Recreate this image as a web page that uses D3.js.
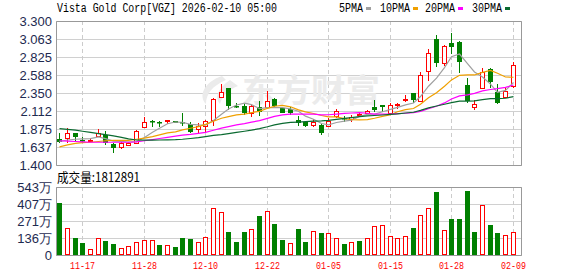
<html>
<head>
<meta charset="utf-8">
<script src="https://cdn.jsdelivr.net/npm/d3@7"></script>
<style>
  body { margin: 0; background: #fff; }
</style>
</head>
<body>
<script>
// trading days shown (MM-DD)
var dates = ["11-12","11-13","11-14","11-17","11-18","11-19","11-20","11-21","11-24","11-25",
  "11-26","11-28","12-01","12-02","12-03","12-04","12-05","12-08","12-09","12-10",
  "12-11","12-12","12-15","12-16","12-17","12-18","12-19","12-22","12-23","12-24",
  "12-26","12-29","12-30","12-31","01-02","01-05","01-06","01-07","01-08","01-09",
  "01-12","01-13","01-14","01-15","01-16","01-20","01-21","01-22","01-23","01-26",
  "01-27","01-28","01-29","01-30","02-02","02-03","02-04","02-05","02-06","02-09"];

var open = [1.743,1.752,1.818,1.725,1.722,1.783,1.796,1.677,1.641,1.670,
  1.694,1.905,1.985,1.965,1.980,1.975,1.970,1.940,1.871,1.908,
  1.994,2.301,2.412,2.185,2.180,2.086,2.160,2.169,2.271,2.148,
  2.135,2.000,1.972,1.932,1.928,1.915,2.047,2.020,2.003,2.060,
  2.090,2.160,2.190,2.082,2.200,2.265,2.345,2.244,2.644,3.062,
  2.742,3.006,3.027,2.456,2.170,2.412,2.663,2.367,2.293,2.442];
var high = [1.822,1.884,1.822,1.768,1.752,1.875,1.849,1.694,1.697,1.700,
  1.862,2.037,1.990,1.985,1.995,1.980,2.080,1.963,1.950,1.990,
  2.284,2.475,2.416,2.214,2.214,2.205,2.240,2.380,2.284,2.160,
  2.160,2.045,1.980,2.010,1.935,2.020,2.143,2.045,2.060,2.100,
  2.130,2.260,2.195,2.214,2.215,2.320,2.350,2.627,2.930,3.109,
  2.983,3.146,3.030,2.544,2.258,2.676,2.684,2.465,2.412,2.763];
var low = [1.684,1.694,1.703,1.690,1.700,1.765,1.664,1.560,1.611,1.650,
  1.686,1.900,1.905,1.895,1.940,1.950,1.910,1.818,1.818,1.842,
  1.915,2.297,2.126,2.148,2.060,2.029,2.040,2.161,2.169,2.080,
  2.060,1.915,1.905,1.900,1.796,1.897,2.020,1.970,1.970,2.030,
  2.070,2.100,2.100,2.060,2.135,2.235,2.215,2.231,2.512,2.693,
  2.700,2.860,2.618,2.214,2.126,2.410,2.420,2.210,2.280,2.412];
var close = [1.697,1.818,1.773,1.720,1.728,1.818,1.694,1.620,1.694,1.685,
  1.853,1.963,1.965,1.955,1.990,1.960,1.950,1.830,1.918,1.974,
  2.267,2.359,2.178,2.180,2.090,2.172,2.100,2.244,2.182,2.090,
  2.082,1.950,1.920,1.971,1.818,1.985,2.109,2.010,2.037,2.070,
  2.115,2.130,2.160,2.192,2.210,2.275,2.255,2.583,2.874,2.750,
  2.970,2.961,2.763,2.244,2.200,2.631,2.499,2.214,2.376,2.719];

var ma5 = [1.71,1.73,1.74,1.745,1.747,1.771,1.747,1.716,1.711,1.702,
  1.709,1.763,1.832,1.884,1.945,1.967,1.964,1.937,1.930,1.926,
  1.988,2.070,2.139,2.192,2.215,2.196,2.144,2.157,2.158,2.158,
  2.140,2.110,2.045,2.003,1.948,1.929,1.961,1.979,1.992,2.042,
  2.068,2.072,2.102,2.133,2.161,2.193,2.218,2.303,2.439,2.547,
  2.686,2.828,2.864,2.738,2.628,2.560,2.467,2.358,2.384,2.488];
var ma10 = [1.64,1.665,1.685,1.695,1.70,1.71,1.72,1.725,1.725,1.725,
  1.740,1.755,1.774,1.798,1.824,1.838,1.864,1.885,1.907,1.936,
  1.977,2.017,2.038,2.061,2.071,2.092,2.107,2.148,2.175,2.186,
  2.168,2.127,2.101,2.080,2.053,2.034,2.035,2.012,1.997,1.995,
  1.999,2.017,2.041,2.063,2.102,2.131,2.145,2.203,2.286,2.354,
  2.440,2.523,2.583,2.589,2.588,2.623,2.648,2.611,2.561,2.558];
var ma20 = [1.72,1.715,1.71,1.705,1.70,1.70,1.70,1.70,1.70,1.70,
  1.705,1.72,1.735,1.75,1.765,1.78,1.795,1.805,1.818,1.830,
  1.859,1.886,1.906,1.929,1.947,1.965,1.985,2.016,2.041,2.061,
  2.072,2.072,2.070,2.070,2.062,2.063,2.071,2.080,2.086,2.091,
  2.083,2.072,2.071,2.071,2.077,2.083,2.090,2.107,2.142,2.175,
  2.219,2.270,2.312,2.326,2.345,2.377,2.396,2.407,2.424,2.456];
var ma30 = [1.88,1.87,1.86,1.845,1.83,1.815,1.80,1.785,1.765,1.745,
  1.73,1.728,1.728,1.73,1.732,1.735,1.74,1.75,1.76,1.775,
  1.79,1.80,1.815,1.83,1.845,1.86,1.88,1.905,1.93,1.949,
  1.962,1.966,1.971,1.979,1.982,1.988,2.002,2.015,2.026,2.039,
  2.048,2.053,2.060,2.068,2.075,2.086,2.096,2.121,2.153,2.179,
  2.202,2.222,2.242,2.244,2.247,2.263,2.276,2.275,2.281,2.302];

// volume in 万 (10k shares); 1 = up day (red), 0 = down day (green)
var volume = [417.6,218,138,98,48,136,112,88,56,72,
  104,120,120,80,80,66,136,128,101,144,
  373,346,184,104,184,205,311,349,248,120,
  93,208,104,189,176,173,133,88,101,112,
  133,232,237,154,136,152,218,319,375,505,
  200,287,287,511,184,399,240,176,160,181.2891];
var volUp = [0,1,0,0,1,1,0,0,1,1, 1,1,1,0,1,0,0,0,1,1,
  1,1,0,0,0,1,0,1,0,0, 1,0,0,1,0,1,1,0,1,0,
  1,1,1,1,1,1,0,1,1,0, 1,0,0,0,0,1,0,0,1,1];

var priceTicks = ["1.400","1.637","1.875","2.112","2.350","2.588","2.825","3.063","3.300"];
var volTicks = [0, 135.75, 271.5, 407.25, 543];
var volTickLabels = ["0","136万","271万","407万","543万"];
var dateTicks = ["11-17","11-28","12-10","12-22","01-05","01-15","01-28","02-09"];
var maNames = ["5PMA","10PMA","20PMA","30PMA"];
var maColors = ["#a0a0a0","#f0a000","#ff00ff","#0a6a30"];

var RED = "#ff0000", GREEN = "#008000";
var SANS = "'Liberation Sans', Arial, sans-serif";
var MONO = "'Liberation Mono', monospace";
var CJK = "'Noto Sans CJK SC', sans-serif";
var left = 56, right = 522;

var svg = d3.select("body").append("svg").attr("width", 578).attr("height", 276);

var x = d3.scaleBand().domain(dates).range([left, 517]);
var y = d3.scaleLinear().domain([1.4, 3.3]).range([165, 21]);
var yv = d3.scaleLinear().domain([0, 543]).range([255, 187]);
function cx(i) { return Math.round(x(dates[i]) + x.bandwidth() / 2 - 2.5) + 2.5; }

// grid
var grid = svg.append("g");
grid.selectAll(".hp").data(priceTicks).join("line")
  .attr("x1", left).attr("x2", right)
  .attr("y1", function (d) { return Math.round(y(+d)) + 0.5; })
  .attr("y2", function (d) { return Math.round(y(+d)) + 0.5; })
  .attr("stroke", "#d0d0d0");
grid.selectAll(".hv").data(volTicks).join("line")
  .attr("x1", left).attr("x2", right)
  .attr("y1", function (d) { return Math.round(yv(d)) + 0.5; })
  .attr("y2", function (d) { return Math.round(yv(d)) + 0.5; })
  .attr("stroke", "#d0d0d0");
dateTicks.forEach(function (d) {
  var xi = cx(dates.indexOf(d));
  [[21, 165], [187, 255]].forEach(function (r) {
    grid.append("line").attr("x1", xi).attr("x2", xi).attr("y1", r[0]).attr("y2", r[1])
      .attr("stroke", "#cccccc").attr("stroke-dasharray", "4,3");
  });
});

// watermark
var wm = svg.append("g").attr("fill", "#ebebeb");
wm.append("path").attr("d", "M222,76 C204,82 198,96 206,104 C206,94 212,86 226,80 Z M230,80 C218,88 214,98 220,104 C222,96 228,90 238,86 Z");
wm.append("text").attr("x", 242).attr("y", 102).attr("font-size", 32).attr("font-weight", "bold")
  .style("font-family", CJK).attr("textLength", 138).attr("lengthAdjust", "spacingAndGlyphs")
  .text("东方财富");

// candles
var cg = svg.append("g");
dates.forEach(function (d, i) {
  var up = close[i] >= open[i];
  var c = up ? RED : GREEN;
  var xc = cx(i);
  var top = Math.round(y(Math.max(open[i], close[i])));
  var bot = Math.round(y(Math.min(open[i], close[i])));
  cg.append("line").attr("x1", xc).attr("x2", xc)
    .attr("y1", Math.round(y(high[i]))).attr("y2", Math.round(y(low[i])))
    .attr("stroke", c);
  if (up) {
    cg.append("rect").attr("x", xc - 2).attr("y", top + 0.5)
      .attr("width", 4).attr("height", Math.max(bot - top, 1))
      .attr("fill", "#fff").attr("stroke", c);
  } else {
    cg.append("rect").attr("x", xc - 2.5).attr("y", top)
      .attr("width", 5).attr("height", Math.max(bot - top, 1.5))
      .attr("fill", c);
  }
});

// moving averages
var line = d3.line().x(function (d, i) { return cx(i); }).y(function (d) { return y(d); });
[ma5, ma10, ma20, ma30].forEach(function (m, k) {
  svg.append("path").attr("d", line(m)).attr("fill", "none")
    .attr("stroke", maColors[k]).attr("stroke-width", 1.2);
});

// volume bars
var vg = svg.append("g");
volume.forEach(function (v, i) {
  var xc = cx(i);
  var top = Math.round(yv(v));
  if (volUp[i]) {
    vg.append("rect").attr("x", xc - 2).attr("y", top + 0.5)
      .attr("width", 4).attr("height", 255 - top - 1)
      .attr("fill", "#fff").attr("stroke", RED);
  } else {
    vg.append("rect").attr("x", xc - 2.5).attr("y", top)
      .attr("width", 5).attr("height", 255 - top).attr("fill", GREEN);
  }
});

// frames
var fr = svg.append("g").attr("fill", "none").attr("stroke", "#999");
fr.append("path").attr("d", "M56.5,21.5H521.5V165.5H56.5Z");
fr.append("path").attr("d", "M56.5,187.5H521.5V255.5H56.5Z");

// axis labels
svg.append("g").selectAll("text").data(priceTicks).join("text")
  .attr("x", 52).attr("y", function (d) { return y(+d); }).attr("dy", "0.36em")
  .attr("text-anchor", "end").attr("font-size", 13).attr("fill", "#1e2a50")
  .style("font-family", SANS)
  .text(function (d) { return d; });
svg.append("g").selectAll("text").data(volTicks).join("text")
  .attr("x", 52).attr("y", function (d) { return yv(d); }).attr("dy", "0.36em")
  .attr("text-anchor", "end").attr("font-size", 13).attr("fill", "#1e2a50")
  .style("font-family", SANS)
  .text(function (d, i) { return volTickLabels[i]; });
svg.append("g").selectAll("text").data(dateTicks).join("text")
  .attr("x", function (d) { return cx(dates.indexOf(d)); }).attr("y", 269)
  .attr("text-anchor", "middle").attr("font-size", 11).attr("fill", RED)
  .style("font-family", MONO).attr("textLength", 25).attr("lengthAdjust", "spacingAndGlyphs")
  .text(function (d) { return d; });

// title + legend
svg.append("text").attr("x", 57).attr("y", 12).attr("font-size", 12)
  .style("font-family", MONO).attr("textLength", 220).attr("lengthAdjust", "spacingAndGlyphs")
  .text("Vista Gold Corp[VGZ] 2026-02-10 05:00");
var legX = [339, 380, 425, 472];
maNames.forEach(function (n, k) {
  svg.append("text").attr("x", legX[k]).attr("y", 12).attr("font-size", 12)
    .style("font-family", MONO).attr("textLength", n.length * 6).attr("lengthAdjust", "spacingAndGlyphs")
    .text(n);
  svg.append("rect").attr("x", legX[k] + n.length * 6 + 3).attr("y", 7)
    .attr("width", 5).attr("height", 3).attr("fill", maColors[k]);
});

svg.append("text").attr("x", 57).attr("y", 182).attr("font-size", 13)
  .style("font-family", CJK).attr("textLength", 83).attr("lengthAdjust", "spacingAndGlyphs")
  .text("成交量:" + Math.round(volume[volume.length - 1] * 10000));
</script>
</body>
</html>
